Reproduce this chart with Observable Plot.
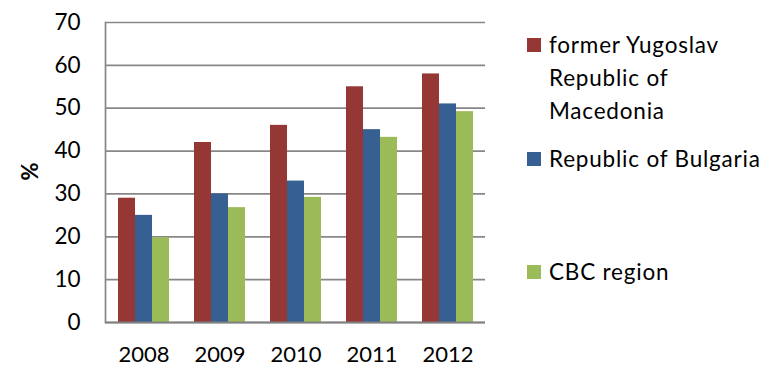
<!DOCTYPE html>
<html>
<head>
<meta charset="utf-8">
<script src="https://cdn.jsdelivr.net/npm/d3@7"></script>
<script src="https://cdn.jsdelivr.net/npm/@observablehq/plot@0.6"></script>
<style>
  html, body { margin: 0; padding: 0; background: #fff; }
  #chart { width: 776px; height: 367px; overflow: hidden; }
</style>
</head>
<body>
<div id="chart"></div>
<script>
const years = ["2008", "2009", "2010", "2011", "2012"];
const seriesNames = ["former Yugoslav Republic of Macedonia", "Republic of Bulgaria", "CBC region"];
const legendLines = [["former Yugoslav", "Republic of", "Macedonia"], ["Republic of Bulgaria"], ["CBC region"]];
const macedonia = [29, 42, 46, 55, 58];
const bulgaria = [25, 30, 33, 45, 51];
const cbc = [19.8, 26.8, 29.2, 43.2, 49.2];
const yTicks = [0, 10, 20, 30, 40, 50, 60, 70];
const colors = ["#953735", "#376092", "#9bbb59"];
const yLabel = "%";

const seriesValues = [macedonia, bulgaria, cbc];
const FONT = "Lato, 'Open Sans', sans-serif";

const barMarks = seriesValues.map((vals, i) =>
  Plot.barY(years.map((yr, j) => ({year: yr, value: vals[j]})), {
    x: "year", y: "value", fill: colors[i],
    insetLeft: 17, insetRight: 17, dx: (i - 1) * 17
  })
);

const chart = Plot.plot({
  width: 776,
  height: 367,
  marginLeft: 105,
  marginRight: 291,
  marginTop: 22,
  marginBottom: 45,
  style: {fontFamily: FONT, fontSize: "22px", color: "#000", background: "#fff"},
  x: {domain: years, paddingInner: 0.33, paddingOuter: 0.165, label: null},
  y: {domain: [0, 70], label: null},
  marks: [
    Plot.ruleY(yTicks, {stroke: "#878787", strokeWidth: 1.7}),
    Plot.frame({anchor: "left", stroke: "#878787", strokeWidth: 1.7}),
    ...barMarks,
    Plot.ruleY([0], {stroke: "#808080", strokeWidth: 2}),
    Plot.axisY({ticks: yTicks, tickSize: 0, tickPadding: 25, fontSize: 22.5, label: null}),
    Plot.axisX({tickSize: 0, tickPadding: 24, fontSize: 22, label: null}),
    Plot.text([yLabel], {frameAnchor: "left", dx: -75, dy: 8, rotate: -90, fontWeight: "bold", fontSize: 22, fill: "#000"})
  ]
});

document.getElementById("chart").appendChild(chart);

// Legend
const svg = d3.select(chart);
const legendTop = [38, 152, 265];
const lg = svg.append("g")
  .attr("font-family", FONT).attr("font-size", 22.5).attr("fill", "#000")
  .attr("letter-spacing", "0.8px")
  .attr("text-anchor", "start");
seriesNames.forEach((name, i) => {
  lg.append("rect").attr("x", 527).attr("y", legendTop[i]).attr("width", 14).attr("height", 14).attr("fill", colors[i]);
  const t = lg.append("text").attr("x", 549).attr("y", legendTop[i] + 15).attr("text-anchor", "start");
  legendLines[i].forEach((line, k) => {
    t.append("tspan").attr("x", 549).attr("dy", k === 0 ? 0 : 33).text(line);
  });
});
</script>
</body>
</html>
